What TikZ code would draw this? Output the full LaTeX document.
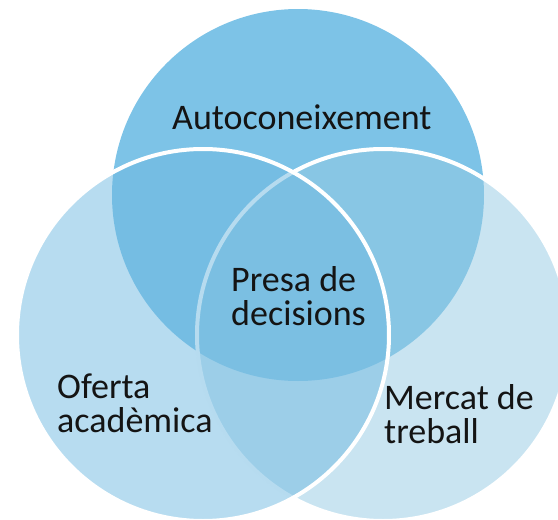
\documentclass[tikz,border=0pt]{standalone}
\usepackage{fontspec}
\setmainfont{Carlito}
\definecolor{topc}{RGB}{125,195,231}
\definecolor{rightc}{RGB}{147,201,227}
\definecolor{leftc}{RGB}{111,185,225}
\definecolor{txt}{RGB}{20,20,20}
\tikzset{
  vennlabel/.style={inner sep=0pt, anchor=base west, align=left, text=txt,
    font=\fontsize{36}{34}\selectfont},
  ring/.style={draw=white, line width=4pt, fill opacity=0.5}
}
\begin{document}
\begin{tikzpicture}[x=1pt,y=-1pt]
\useasboundingbox (0,0) rectangle (558,520);
\clip (0,0) rectangle (558,520);
\fill[topc] (298,195) circle[radius=186];
\path[ring, fill=rightc] (383,335) circle[radius=186];
\path[ring, fill=leftc] (203,335) circle[radius=186];
\node[vennlabel] (auto) at (172,129) {Autoconeixement};
\node[vennlabel] (presa) at (231,325) {Presa de\\decisions};
\node[vennlabel] (oferta) at (57,432) {Oferta\\acadèmica};
\node[vennlabel] (mercat) at (384,443) {Mercat de\\treball};
\end{tikzpicture}
\end{document}
